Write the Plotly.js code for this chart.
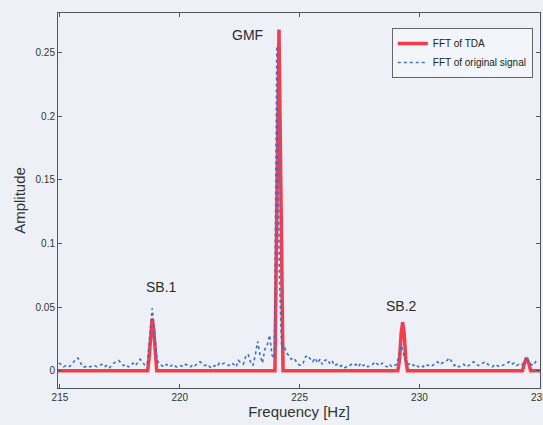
<!DOCTYPE html>
<html>
<head>
<meta charset="utf-8">
<script src="https://cdn.plot.ly/plotly-3.0.1.min.js"></script>
<style>
html,body{margin:0;padding:0;background:#edf1f7;}
#chart{width:543px;height:425px;}
</style>
</head>
<body>
<div id="chart"></div>
<script>
// Frequency grid of the original-signal FFT (Hz): 214.95 + 0.1*k
var freqStart = 214.95;
var freqStep = 0.1;
// FFT of original signal (blue dotted)
var originalAmp = [
0.006,0.005,0.003,0.004,0.003,0.004,0.006,0.009,0.010,0.006,
0.003,0.003,0.004,0.003,0.004,0.004,0.003,0.004,0.005,0.003,
0.004,0.002,0.004,0.006,0.007,0.008,0.006,0.004,0.005,0.003,
0.004,0.006,0.004,0.007,0.009,0.007,0.004,0.006,0.030,0.049,
0.030,0.009,0.005,0.004,0.003,0.005,0.003,0.004,0.005,0.003,
0.003,0.004,0.003,0.005,0.004,0.003,0.005,0.004,0.006,0.007,
0.005,0.004,0.005,0.003,0.002,0.004,0.003,0.006,0.005,0.006,
0.005,0.004,0.006,0.005,0.003,0.008,0.006,0.005,0.011,0.013,
0.007,0.004,0.012,0.023,0.012,0.006,0.017,0.020,0.028,0.012,
0.010,0.255,0.080,0.018,0.020,0.014,0.012,0.009,0.010,0.007,
0.005,0.004,0.006,0.011,0.012,0.009,0.007,0.010,0.006,0.009,
0.005,0.008,0.009,0.006,0.008,0.004,0.005,0.003,0.004,0.002,
0.003,0.003,0.005,0.004,0.005,0.003,0.006,0.004,0.005,0.003,
0.004,0.005,0.007,0.005,0.004,0.006,0.004,0.003,0.005,0.003,
0.004,0.005,0.012,0.020,0.012,0.006,0.005,0.006,0.004,0.005,
0.003,0.004,0.003,0.005,0.004,0.005,0.004,0.006,0.007,0.005,
0.006,0.007,0.008,0.010,0.007,0.004,0.005,0.003,0.004,0.005,
0.003,0.004,0.005,0.007,0.006,0.004,0.005,0.006,0.007,0.005,
0.004,0.003,0.005,0.004,0.003,0.004,0.005,0.006,0.007,0.005,
0.006,0.004,0.005,0.004,0.006,0.011,0.007,0.005,0.004,0.007,
0.005
];
var originalFreq = originalAmp.map(function(_, i){ return +(freqStart + freqStep*i).toFixed(2); });

// FFT of TDA (red)
var tdaFreq = [214.9, 218.66, 218.72, 218.79, 218.85, 218.91, 218.98, 219.04,
               223.97, 224.06, 224.14, 224.22, 224.31,
               229.10, 229.17, 229.24, 229.30, 229.36, 229.43, 229.50,
               234.30, 234.38, 234.47, 234.56, 234.64, 235.1];
var tdaAmp  = [0, 0, 0.010, 0.033, 0.041, 0.033, 0.010, 0,
               0, 0.14, 0.268, 0.14, 0,
               0, 0.009, 0.030, 0.038, 0.030, 0.009, 0,
               0, 0.006, 0.010, 0.006, 0, 0];

var xTicks = [215, 220, 225, 230, 235];
var yTicks = [0, 0.05, 0.1, 0.15, 0.2, 0.25];
var yTickText = ['0', '0.05', '0.1', '0.15', '0.2', '0.25'];

var peakLabels = ['GMF', 'SB.1', 'SB.2'];
var peakLabelX = [222.83, 219.25, 229.25];
var peakLabelY = [0.2635, 0.0655, 0.0510];

var font = 'Liberation Sans, Arial, Helvetica, sans-serif';

var traces = [
  {
    x: tdaFreq, y: tdaAmp, type: 'scatter', mode: 'lines',
    name: 'FFT of TDA',
    line: {color: '#f33c4c', width: 3.5}
  },
  {
    x: originalFreq, y: originalAmp, type: 'scatter', mode: 'lines',
    name: 'FFT of original signal',
    line: {color: '#3c6fd0', width: 1.6, dash: 'dot'}
  }
];

var annotations = peakLabels.map(function(t, i){
  return {x: peakLabelX[i], y: peakLabelY[i], xref: 'x', yref: 'y', text: t,
          showarrow: false, font: {family: font, size: 14, color: '#2b2b2b'}};
});

var axisCommon = {
  showgrid: false, zeroline: false, showline: true, linecolor: '#555', linewidth: 1,
  mirror: 'ticks', ticks: 'inside', ticklen: 4, tickcolor: '#555',
  tickfont: {family: font, size: 10, color: '#333'}
};

var layout = {
  width: 543, height: 425,
  margin: {l: 58, r: 3, t: 13, b: 37},
  paper_bgcolor: '#edf1f7', plot_bgcolor: '#edf1f7',
  showlegend: true,
  legend: {x: 0.985, y: 0.96, xanchor: 'right', yanchor: 'top',
           bgcolor: '#f2f5fa', bordercolor: '#666', borderwidth: 1,
           font: {family: font, size: 10, color: '#222'},
           tracegroupgap: 0, itemwidth: 30},
  xaxis: Object.assign({}, axisCommon, {
    range: [214.92, 235.03], tickvals: xTicks, ticktext: xTicks.map(String),
    ticklabeloverflow: 'allow',
    title: {text: 'Frequency [Hz]', font: {family: font, size: 15, color: '#333'}, standoff: 4}
  }),
  yaxis: Object.assign({}, axisCommon, {
    range: [-0.0136, 0.281], tickvals: yTicks, ticktext: yTickText,
    title: {text: 'Amplitude', font: {family: font, size: 15, color: '#333'}, standoff: 6}
  }),
  annotations: annotations
};

Plotly.newPlot('chart', traces, layout, {displayModeBar: false, staticPlot: true});
</script>
</body>
</html>
